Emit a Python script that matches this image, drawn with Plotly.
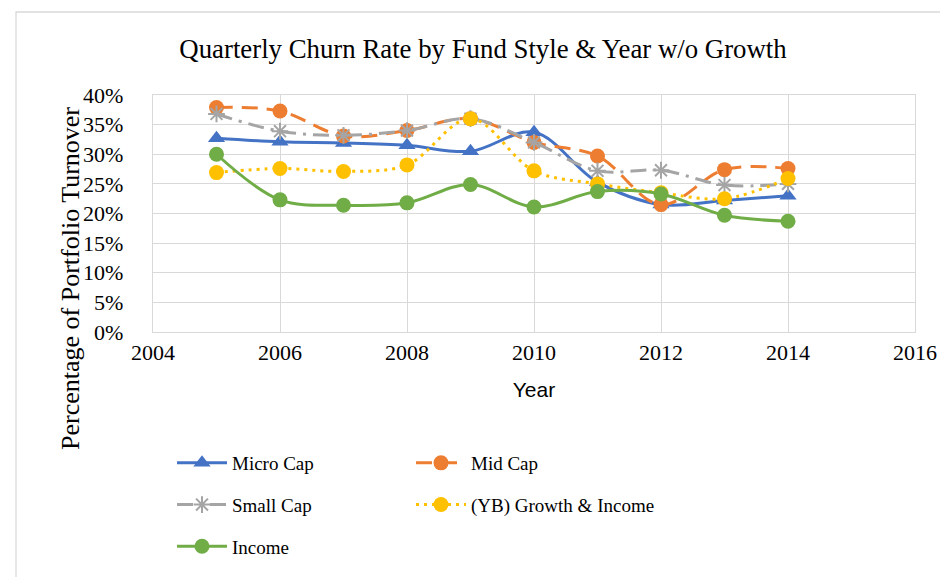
import plotly.graph_objects as go

years = [2005, 2006, 2007, 2008, 2009, 2010, 2011, 2012, 2013, 2014]
micro_cap = [0.327, 0.321, 0.319, 0.315, 0.305, 0.337, 0.253, 0.215, 0.222, 0.230]
mid_cap = [0.379, 0.373, 0.331, 0.340, 0.360, 0.320, 0.297, 0.215, 0.274, 0.276]
small_cap = [0.368, 0.339, 0.332, 0.340, 0.360, 0.320, 0.272, 0.273, 0.248, 0.250]
yb_growth_income = [0.269, 0.276, 0.271, 0.282, 0.360, 0.272, 0.250, 0.235, 0.225, 0.259]
income = [0.300, 0.223, 0.214, 0.218, 0.249, 0.211, 0.237, 0.233, 0.197, 0.187]

x_ticks = [2004, 2006, 2008, 2010, 2012, 2014, 2016]
y_ticks = [0, 0.05, 0.10, 0.15, 0.20, 0.25, 0.30, 0.35, 0.40]

W, H = 948, 577
L, R, T, B = 145, 41, 87, 253
PW = W - L - R
PH = H - T - B

SERIF = "Liberation Serif"
SANS = "Liberation Sans"

series = [
    ("Micro Cap", micro_cap, "#4472C4", "solid", dict(symbol="triangle-up", size=15, color="#4472C4"), "legend"),
    ("Mid Cap", mid_cap, "#ED7D31", "16px,9px", dict(symbol="circle", size=15, color="#ED7D31"), "legend2"),
    ("Small Cap", small_cap, "#A5A5A5", "16px,7px,3px,7px",
     dict(symbol="asterisk-open", size=14, color="#A5A5A5", line=dict(color="#A5A5A5", width=2)), "legend"),
    ("(YB) Growth & Income", yb_growth_income, "#FFC000", "3px,5px", dict(symbol="circle", size=15, color="#FFC000"), "legend2"),
    ("Income", income, "#70AD47", "solid", dict(symbol="circle", size=15, color="#70AD47"), "legend"),
]

fig = go.Figure()
for i, (name, vals, col, dash, marker, leg) in enumerate(series):
    fig.add_trace(go.Scatter(
        x=years, y=vals, name=name, mode="lines+markers",
        line=dict(color=col, width=3, dash=dash, shape="spline", smoothing=1),
        marker=marker, legend=leg, legendgroup=name,
    ))

def px2paper_x(px):
    return (px - L) / PW

def px2paper_y(py):
    return (H - B - py) / PH

legend_common = dict(
    orientation="v", xref="paper", yref="paper",
    xanchor="left", yanchor="top",
    font=dict(family=SERIF, size=19, color="#000000"),
    bgcolor="rgba(0,0,0,0)", itemwidth=50,
    traceorder="grouped", tracegroupgap=14,
)

fig.update_layout(
    width=W, height=H,
    margin=dict(l=L, r=R, t=T, b=B, autoexpand=False),
    paper_bgcolor="white", plot_bgcolor="white",
    title=dict(text="Quarterly Churn Rate by Fund Style & Year w/o Growth",
               x=475 / W, xref="container", xanchor="center",
               y=1 - 41 / H, yref="container", yanchor="middle",
               font=dict(family=SERIF, size=26.8, color="#000000")),
    xaxis=dict(range=[2004, 2016], tickvals=x_ticks, ticktext=[str(v) for v in x_ticks],
               showgrid=True, gridcolor="#D9D9D9", gridwidth=1.3,
               showline=True, linecolor="#D9D9D9", linewidth=1.3, mirror=True,
               zeroline=False, ticks="", ticklabelstandoff=0, automargin=False,
               tickangle=0,
               tickfont=dict(family=SERIF, size=22, color="#000000"),
               title=dict(text="Year", standoff=18,
                          font=dict(family=SANS, size=21, color="#000000"))),
    yaxis=dict(range=[0, 0.40], tickvals=y_ticks, tickformat=".0%",
               showgrid=True, gridcolor="#D9D9D9", gridwidth=1.3,
               showline=True, linecolor="#D9D9D9", linewidth=1.3, mirror=True,
               zeroline=False, ticks="", ticklabelstandoff=24, automargin=False,
               tickfont=dict(family=SERIF, size=22, color="#000000")),
    legend=dict(x=px2paper_x(164), y=px2paper_y(436), **legend_common),
    legend2=dict(x=px2paper_x(403), y=px2paper_y(436), **legend_common),
    showlegend=True,
    annotations=[dict(
        text="Percentage of Portfolio Turnover", textangle=-90,
        xref="paper", yref="paper", x=px2paper_x(62), y=px2paper_y(271),
        xanchor="center", yanchor="middle", showarrow=False,
        font=dict(family=SERIF, size=26, color="#000000"))],
    shapes=[dict(type="rect", xref="paper", yref="paper", layer="below",
                 x0=px2paper_x(8), x1=px2paper_x(W + 20),
                 y0=px2paper_y(H + 20), y1=px2paper_y(4),
                 line=dict(color="#D9D9D9", width=1.3), fillcolor="rgba(0,0,0,0)")],
)

fig.write_html("out.html")
